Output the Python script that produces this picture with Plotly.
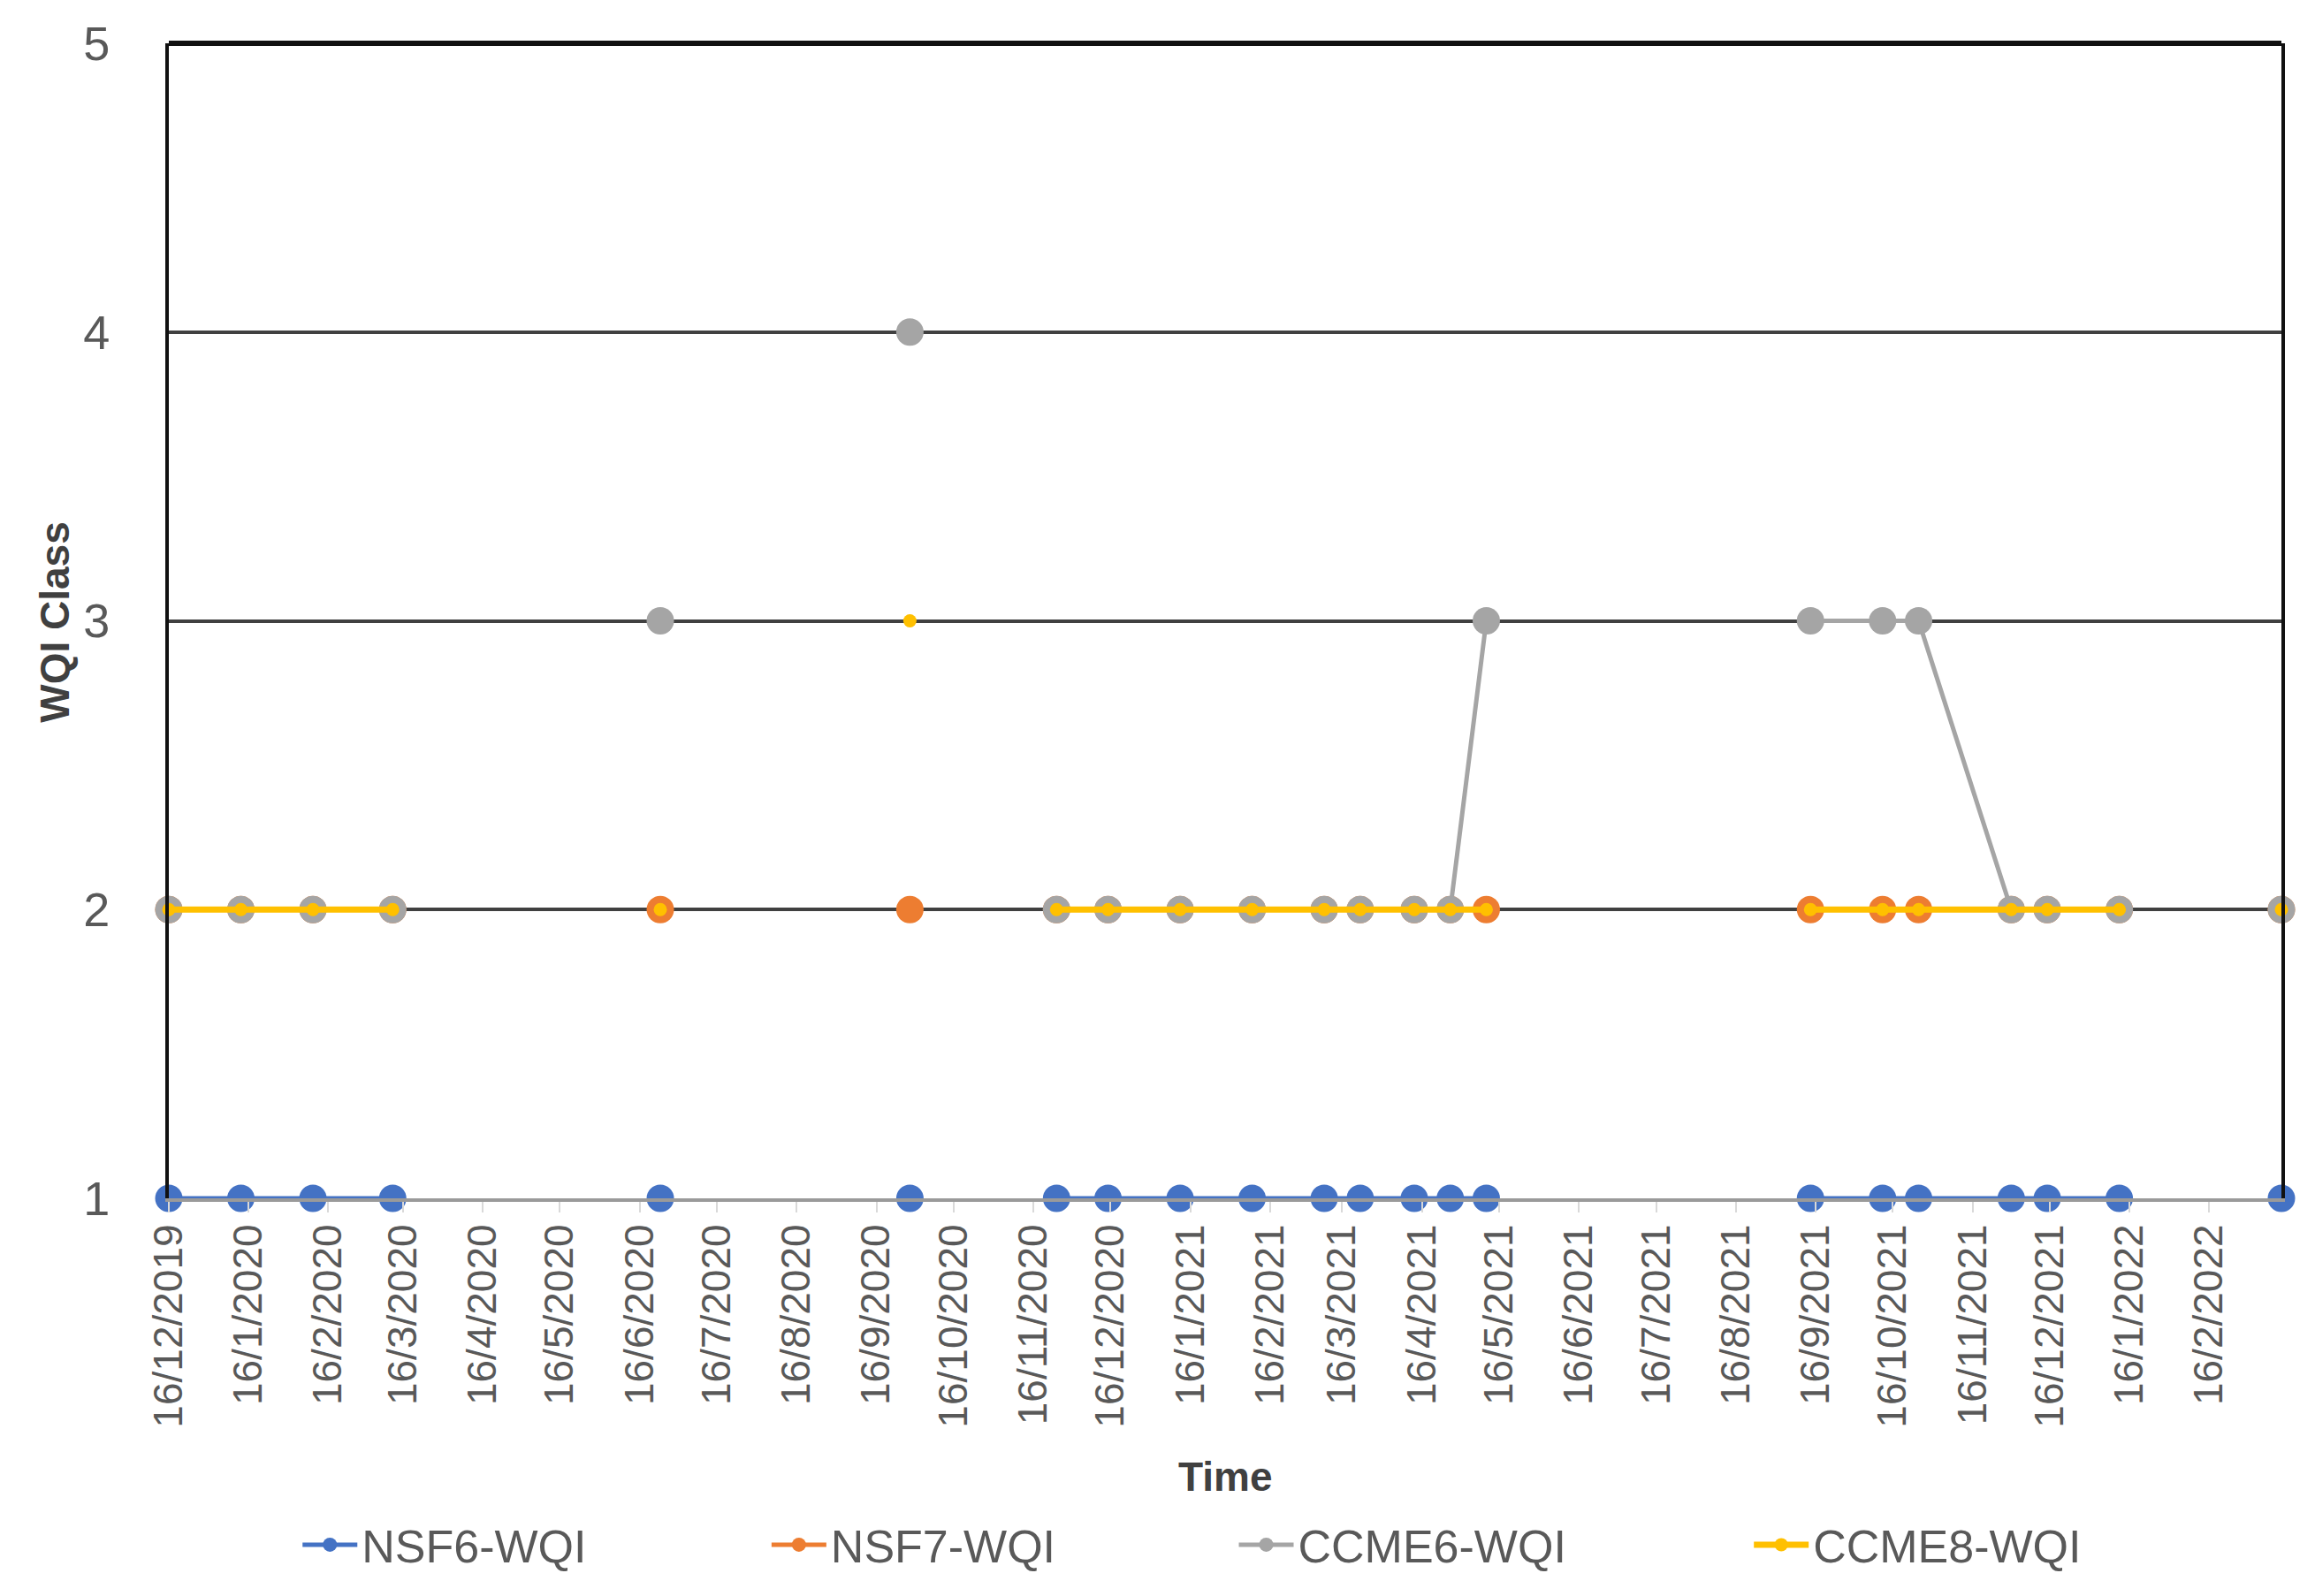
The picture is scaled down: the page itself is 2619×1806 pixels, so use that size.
import plotly.graph_objects as go
from datetime import date

# ---------------- data ----------------
sample_dates = ["2019-12-16", "2020-01-13", "2020-02-10", "2020-03-12", "2020-06-24",
                "2020-09-29", "2020-11-25", "2020-12-15", "2021-01-12", "2021-02-09",
                "2021-03-09", "2021-03-23", "2021-04-13", "2021-04-27", "2021-05-11",
                "2021-09-14", "2021-10-12", "2021-10-26", "2021-12-01", "2021-12-15",
                "2022-01-12", "2022-03-16"]
nsf6_wqi = [1, 1, 1, 1, 1, 1, 1, 1, 1, 1, 1, 1, 1, 1, 1, 1, 1, 1, 1, 1, 1, 1]
nsf7_wqi = [2, 2, 2, 2, 2, 2, 2, 2, 2, 2, 2, 2, 2, 2, 2, 2, 2, 2, 2, 2, 2, 2]
ccme6_wqi = [2, 2, 2, 2, 3, 4, 2, 2, 2, 2, 2, 2, 2, 2, 3, 3, 3, 3, 2, 2, 2, 2]
ccme8_wqi = [2, 2, 2, 2, 2, 3, 2, 2, 2, 2, 2, 2, 2, 2, 2, 2, 2, 2, 2, 2, 2, 2]
# line is broken (missing records) after these sample indices
breaks_after = [3, 4, 5, 14, 20]

tick_labels = ["16/12/2019", "16/1/2020", "16/2/2020", "16/3/2020", "16/4/2020",
               "16/5/2020", "16/6/2020", "16/7/2020", "16/8/2020", "16/9/2020",
               "16/10/2020", "16/11/2020", "16/12/2020", "16/1/2021", "16/2/2021",
               "16/3/2021", "16/4/2021", "16/5/2021", "16/6/2021", "16/7/2021",
               "16/8/2021", "16/9/2021", "16/10/2021", "16/11/2021", "16/12/2021",
               "16/1/2022", "16/2/2022"]
y_ticks = [1, 2, 3, 4, 5]

series_names = ["NSF6-WQI", "NSF7-WQI", "CCME6-WQI", "CCME8-WQI"]
series_values = [nsf6_wqi, nsf7_wqi, ccme6_wqi, ccme8_wqi]

# ---------------- helpers ----------------
def to_iso(lbl):
    d, m, y = lbl.split("/")
    return date(int(y), int(m), int(d)).isoformat()

tick_vals = [to_iso(t) for t in tick_labels]

def with_gaps(xs, ys):
    ox, oy = [], []
    for i, (a, b) in enumerate(zip(xs, ys)):
        ox.append(a)
        oy.append(b)
        if i in breaks_after:
            ox.append(None)
            oy.append(None)
    return ox, oy

colors = ["#4472C4", "#ED7D31", "#A5A5A5", "#FFC000"]
msizes = [31, 31, 31, 15]
lwidths = [5, 5, 5, 7]
legend_ids = ["legend", "legend2", "legend3", "legend4"]
legend_x = [0.0612, 0.2832, 0.5044, 0.7482]

FONT = "Liberation Sans, Arial, sans-serif"
TXT = "#595959"

fig = go.Figure()
for name, vals, c, ms, lw, lid in zip(series_names, series_values, colors, msizes, lwidths, legend_ids):
    x, y = with_gaps(sample_dates, vals)
    fig.add_trace(go.Scatter(
        x=x, y=y, name=name, mode="lines+markers",
        line=dict(color=c, width=lw),
        marker=dict(color=c, size=ms, line=dict(width=0)),
        connectgaps=False, cliponaxis=False, legend=lid,
    ))

leg_common = dict(orientation="h", y=-0.300, yanchor="middle", xanchor="left",
                  font=dict(family=FONT, size=52, color=TXT), itemwidth=62,
                  bgcolor="rgba(0,0,0,0)", borderwidth=0)
layout_legends = {}
for lid, lx in zip(legend_ids, legend_x):
    layout_legends[lid] = dict(x=lx, **leg_common)

fig.update_layout(
    width=2619, height=1806,
    margin=dict(l=183, r=46, t=41, b=458),
    paper_bgcolor="white", plot_bgcolor="white",
    showlegend=True,
    xaxis=dict(
        type="date", range=["2019-12-16", "2022-03-16"],
        tickmode="array", tickvals=tick_vals, ticktext=tick_labels,
        tickangle=-90, tickfont=dict(family=FONT, size=46, color=TXT),
        ticks="outside", ticklen=12, tickwidth=2, tickcolor="#D9D9D9",
        ticklabelstandoff=-5,
        showline=True, linecolor="#9A9A9A", linewidth=4,
        showgrid=False, zeroline=False,
    ),
    yaxis=dict(
        range=[1, 5], tickmode="array", tickvals=y_ticks,
        tickfont=dict(family=FONT, size=54, color=TXT),
        ticks="", ticklabelstandoff=52,
        showgrid=True, gridcolor="#404040", gridwidth=3.5,
        showline=True, linecolor="#111111", linewidth=4, mirror=True,
        zeroline=False,
    ),
    shapes=[dict(type="line", xref="paper", yref="paper", x0=0, x1=1, y0=1, y1=1,
                 line=dict(color="#111111", width=6))],
    annotations=[
        dict(text="<b>WQI Class</b>", xref="paper", yref="paper", x=-0.054, y=0.499,
             textangle=-90, showarrow=False, xanchor="center", yanchor="middle",
             font=dict(family=FONT, size=46, color="#404040")),
        dict(text="<b>Time</b>", xref="paper", yref="paper", x=0.5, y=-0.2412,
             showarrow=False, xanchor="center", yanchor="middle",
             font=dict(family=FONT, size=46, color="#404040")),
    ],
    **layout_legends,
)

fig.write_html("out.html")
